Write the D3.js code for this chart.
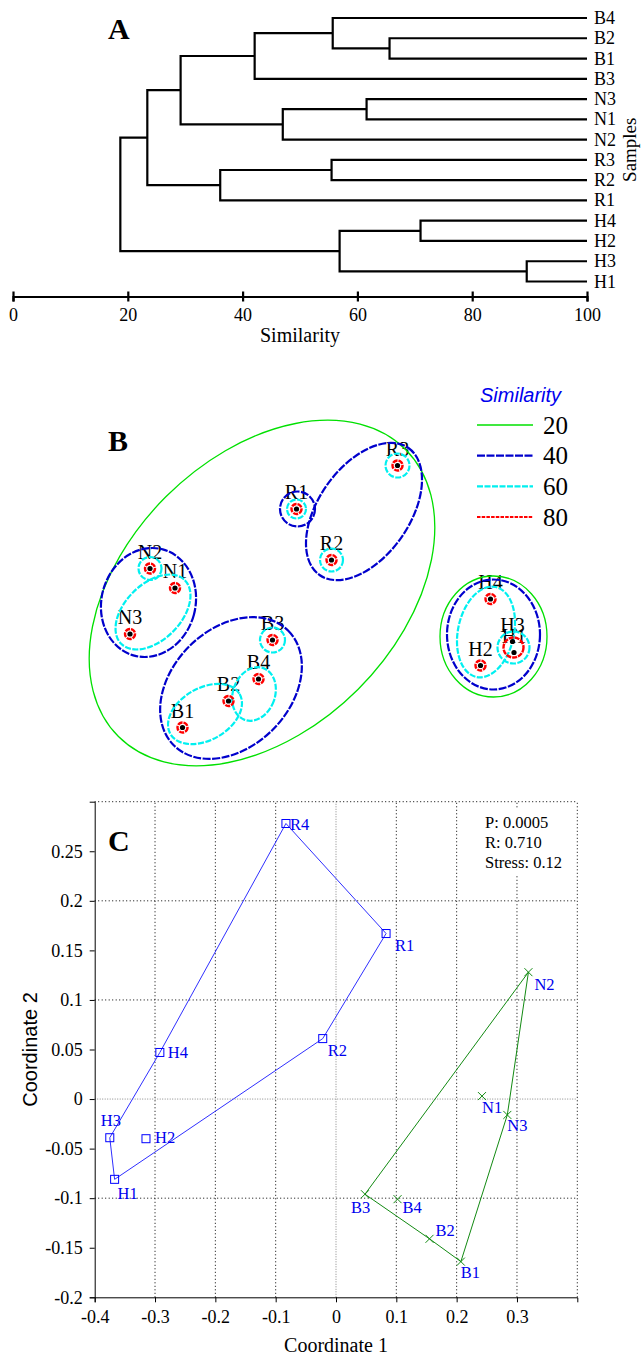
<!DOCTYPE html>
<html lang="en">
<head>
<meta charset="UTF-8">
<title>Cluster and MDS figure</title>
<script src="https://d3js.org/d3.v7.min.js"></script>
<style>
  body { margin: 0; background: #fff; }
  svg { display: block; }
</style>
</head>
<body>
<svg id="fig" width="641" height="1357"></svg>
<script>
// ---------- data: panel A (dendrogram) ----------
const leafOrder  = ['B4','B2','B1','B3','N3','N1','N2','R3','R2','R1','H4','H2','H3','H1'];
const mergeId    = ['m1','m2','m3','m4','m5','m6','m7','m8','m9','m10','m11','m12','m13'];
const mergeLeft  = ['B2','B4','m2','N3','m4','R3','m6','m3','m8','H4','H3','m10','m9'];
const mergeRight = ['B1','m1','B3','N1','N2','R2','R1','m5','m7','H2','H1','m11','m12'];
const mergeSim   = [65.6, 55.7, 42.1, 61.6, 47.0, 55.5, 36.1, 29.2, 23.4, 71.0, 89.5, 56.9, 18.7];
const simTicks   = [0, 20, 40, 60, 80, 100];

// ---------- data: panel B (MDS with similarity overlays) ----------
const bNames = ['R1','R2','R3','N1','N2','N3','B1','B2','B3','B4','H1','H2','H3','H4'];
const bX     = [47.3, 54.3, 67.5, 23.0, 18.0, 14.0, 24.5, 33.7, 42.5, 39.7, 90.8, 84.1, 90.5, 86.1];
const bY     = [54.2, 44.0, 62.9, 38.4, 42.3, 29.2, 10.5, 15.8, 28.0, 20.2, 25.5, 22.9, 27.7, 36.2];
// overlay rings: level, centre, radii, angle (deg, counter-clockwise)
const ringLevel = [20, 20,  40, 40, 40, 40, 40,  60, 60, 60, 60, 60, 60, 60, 60, 60, 60];
const ringCx    = [40.4, 86.7, 17.7, 34.2, 47.5, 60.8, 86.7, 18.0, 18.6, 42.5, 38.8, 29.0, 47.3, 54.3, 67.5, 85.2, 90.7];
const ringCy    = [37.4, 28.7, 35.5, 18.4, 54.2, 53.7, 29.1, 42.3, 33.6, 28.0, 17.2, 13.2, 54.2, 44.0, 62.9, 29.6, 26.5];
const ringRx    = [40.6, 10.7, 9.4, 16.2, 3.5, 15.5, 9.3, 2.3, 9.0, 2.5, 4.2, 8.0, 1.9, 2.3, 2.4, 5.6, 3.2];
const ringRy    = [27.2, 12.1, 11.0, 11.8, 3.5, 9.1, 11.0, 2.3, 5.6, 2.5, 5.5, 5.2, 1.9, 2.3, 2.4, 9.2, 3.2];
const ringAngle = [45, 0, -15, 45, 0, 55, 0, 0, 45, 0, -20, 30, 0, 0, 0, -12, 0];
// level-80 rings (one per point, H3+H1 share one)
const red80Cx = [47.3, 54.3, 67.5, 23.0, 18.0, 14.0, 24.5, 33.7, 42.5, 39.7, 84.1, 86.1, 90.7];
const red80Cy = [54.2, 44.0, 62.9, 38.4, 42.3, 29.2, 10.5, 15.8, 28.0, 20.2, 22.9, 36.2, 26.5];
const red80R  = [1.0, 1.0, 1.0, 1.0, 1.0, 1.0, 1.0, 1.0, 1.0, 1.0, 1.0, 1.0, 2.0];
const legendLevels = [20, 40, 60, 80];

// ---------- data: panel C (NMDS ordination) ----------
const mdsNames = ['R1','R2','R4','H1','H2','H3','H4','N1','N2','N3','B1','B2','B3','B4'];
const mdsX = [0.083, -0.022, -0.083, -0.367, -0.315, -0.375, -0.292, 0.242, 0.319, 0.284, 0.207, 0.155, 0.048, 0.102];
const mdsY = [0.167, 0.061, 0.278, -0.081, -0.040, -0.039, 0.047, 0.003, 0.128, -0.016, -0.164, -0.141, -0.096, -0.101];
const mdsGroup = ['RH','RH','RH','RH','RH','RH','RH','NB','NB','NB','NB','NB','NB','NB'];
const hullRH = ['R4','R1','R2','H1','H3','H4'];
const hullNB = ['N2','N3','B1','B2','B3'];
const xTicksC = [-0.4, -0.3, -0.2, -0.1, 0, 0.1, 0.2, 0.3];
const xTickLabelsC = ['-0.4','-0.3','-0.2','-0.1','0','0.1','0.2','0.3'];
const yTicksC = [-0.2, -0.15, -0.1, -0.05, 0, 0.05, 0.1, 0.15, 0.2, 0.25];
const yTickLabelsC = ['-0.2','-0.15','-0.1','-0.05','0','0.05','0.1','0.15','0.2','0.25'];
const gridXC = [-0.3, -0.2, -0.1, 0, 0.1, 0.2, 0.3, 0.4];
const gridYC = [-0.1, 0, 0.1, 0.2, 0.3];
const statsText = ['P: 0.0005', 'R: 0.710', 'Stress: 0.12'];

const SERIF = '"Liberation Serif", "Times New Roman", serif';
const SANS = '"Liberation Sans", Arial, sans-serif';
const svg = d3.select('#fig');

// ================= panel A =================
const xA = d3.scaleLinear().domain([0, 100]).range([13, 587]);
const yA = d3.scalePoint().domain(leafOrder).range([18, 281.5]);
const gA = svg.append('g');

const pos = {};
leafOrder.forEach(n => pos[n] = { x: xA(100), y: yA(n) });
mergeId.forEach((id, i) => {
    const l = pos[mergeLeft[i]], r = pos[mergeRight[i]];
    pos[id] = { x: xA(mergeSim[i]), y: (l.y + r.y) / 2, l: l, r: r };
});

gA.selectAll('path.link')
    .data(mergeId)
    .enter()
    .append('path')
    .attr('class', 'link')
    .attr('d', id => {
        const p = pos[id];
        return `M${p.l.x},${p.l.y}H${p.x}V${p.r.y}H${p.r.x}`;
    })
    .style('fill', 'none')
    .style('stroke', '#000')
    .style('stroke-width', 2.2);

gA.selectAll('text.leaf')
    .data(leafOrder)
    .enter()
    .append('text')
    .attr('class', 'leaf')
    .attr('x', xA(100) + 7)
    .attr('y', d => yA(d) + 6)
    .style('font-family', SERIF)
    .style('font-size', '18px')
    .text(d => d);

const axA = gA.append('g')
    .attr('transform', 'translate(0,296.5)')
    .call(d3.axisBottom(xA).tickValues(simTicks).tickSizeOuter(0).tickSize(5));
axA.attr('font-family', SERIF);
axA.select('.domain').style('stroke-width', 2.2);
axA.selectAll('.tick line').attr('y1', -5).attr('y2', 5).style('stroke-width', 2.2);
axA.selectAll('.tick text')
    .attr('y', 24).attr('dy', 0)
    .style('font-family', SERIF).style('font-size', '18px');

gA.append('text')
    .attr('x', xA(50)).attr('y', 342)
    .attr('text-anchor', 'middle')
    .style('font-family', SERIF).style('font-size', '20px')
    .text('Similarity');

gA.append('text')
    .attr('transform', `translate(636,${(yA('B4') + yA('H1')) / 2}) rotate(-90)`)
    .attr('text-anchor', 'middle')
    .style('font-family', SERIF).style('font-size', '19px')
    .text('Samples');

gA.append('text')
    .attr('x', 108).attr('y', 39)
    .style('font-family', SERIF).style('font-size', '30px').style('font-weight', 'bold')
    .text('A');

// ================= panel B =================
const xB = d3.scaleLinear().domain([0, 100]).range([60, 560]);
const yB = d3.scaleLinear().domain([0, 80]).range([780, 380]);
const rB = v => xB(v) - xB(0);
const gB = svg.append('g');

const levelStyle = {
    20: { stroke: '#00e000', width: 1.3, dash: null },
    40: { stroke: '#0000cc', width: 2.2, dash: '8,1.5' },
    60: { stroke: '#00f0f0', width: 2.2, dash: '6,1.5' },
    80: { stroke: '#ff0000', width: 2, dash: '3.5,1.2' }
};

gB.append('text')
    .attr('x', 108).attr('y', 451)
    .style('font-family', SERIF).style('font-size', '30px').style('font-weight', 'bold')
    .text('B');

// labels go under the rings
gB.selectAll('text.lab')
    .data(bNames)
    .enter()
    .append('text')
    .attr('class', 'lab')
    .attr('x', (d, i) => xB(bX[i]))
    .attr('y', (d, i) => yB(bY[i]) - 10)
    .attr('text-anchor', 'middle')
    .style('font-family', SERIF)
    .style('font-size', '20px')
    .text(d => d);

gB.selectAll('ellipse.ring')
    .data(ringLevel)
    .enter()
    .append('ellipse')
    .attr('class', 'ring')
    .attr('cx', (d, i) => xB(ringCx[i]))
    .attr('cy', (d, i) => yB(ringCy[i]))
    .attr('rx', (d, i) => rB(ringRx[i]))
    .attr('ry', (d, i) => rB(ringRy[i]))
    .attr('transform', (d, i) => `rotate(${-ringAngle[i]},${xB(ringCx[i])},${yB(ringCy[i])})`)
    .style('fill', 'none')
    .style('stroke', d => levelStyle[d].stroke)
    .style('stroke-width', d => levelStyle[d].width)
    .style('stroke-dasharray', d => levelStyle[d].dash);

gB.selectAll('circle.r80')
    .data(red80R)
    .enter()
    .append('circle')
    .attr('class', 'r80')
    .attr('cx', (d, i) => xB(red80Cx[i]))
    .attr('cy', (d, i) => yB(red80Cy[i]))
    .attr('r', d => rB(d))
    .style('fill', 'none')
    .style('stroke', levelStyle[80].stroke)
    .style('stroke-width', 2.4)
    .style('stroke-dasharray', '5,1');

gB.selectAll('circle.dot')
    .data(bNames)
    .enter()
    .append('circle')
    .attr('class', 'dot')
    .attr('cx', (d, i) => xB(bX[i]))
    .attr('cy', (d, i) => yB(bY[i]))
    .attr('r', 2.6)
    .style('fill', '#000');

// legend
const legY = d3.scalePoint().domain(legendLevels).range([425, 517]);
gB.append('text')
    .attr('x', 480).attr('y', 402)
    .style('font-family', SANS).style('font-style', 'italic')
    .style('font-size', '20px').style('fill', '#0000ee')
    .text('Similarity');
gB.selectAll('line.leg')
    .data(legendLevels)
    .enter()
    .append('line')
    .attr('class', 'leg')
    .attr('x1', 477).attr('x2', 533)
    .attr('y1', d => legY(d)).attr('y2', d => legY(d))
    .style('stroke', d => levelStyle[d].stroke)
    .style('stroke-width', d => levelStyle[d].width)
    .style('stroke-dasharray', d => levelStyle[d].dash);
gB.selectAll('text.leg')
    .data(legendLevels)
    .enter()
    .append('text')
    .attr('class', 'leg')
    .attr('x', 543)
    .attr('y', d => legY(d) + 8.5)
    .style('font-family', SERIF).style('font-size', '25px')
    .text(d => d);

// ================= panel C =================
const xC = d3.scaleLinear().domain([-0.4, 0.4]).range([94.7, 577.3]);
const yC = d3.scaleLinear().domain([-0.2, 0.3]).range([1297.3, 801.7]);
const gC = svg.append('g');

gC.selectAll('line.gx')
    .data(gridXC)
    .enter()
    .append('line')
    .attr('class', 'gx')
    .attr('x1', d => xC(d)).attr('x2', d => xC(d))
    .attr('y1', yC(-0.2)).attr('y2', yC(0.3))
    .style('stroke', d => d === 0 ? '#888' : '#000')
    .style('stroke-width', 1)
    .style('stroke-dasharray', d => d === 0 ? '1,1.5' : '1,2.5');
gC.selectAll('line.gy')
    .data(gridYC)
    .enter()
    .append('line')
    .attr('class', 'gy')
    .attr('x1', xC(-0.4)).attr('x2', xC(0.4))
    .attr('y1', d => yC(d)).attr('y2', d => yC(d))
    .style('stroke', d => d === 0 ? '#888' : '#000')
    .style('stroke-width', 1)
    .style('stroke-dasharray', d => d === 0 ? '1,1.5' : '1,2.5');

// stats box hides the grid behind it
gC.append('rect')
    .attr('x', 482).attr('y', 808).attr('width', 90).attr('height', 67)
    .style('fill', '#fff');
gC.selectAll('text.stat')
    .data(statsText)
    .enter()
    .append('text')
    .attr('class', 'stat')
    .attr('x', 485)
    .attr('y', (d, i) => 828 + i * 20)
    .style('font-family', SERIF).style('font-size', '16.5px')
    .text(d => d);

const axCx = gC.append('g')
    .attr('transform', `translate(0,${yC(-0.2)})`)
    .call(d3.axisBottom(xC).tickValues(xTicksC).tickFormat((d, i) => xTickLabelsC[i]).tickSizeOuter(0).tickSize(5));
axCx.selectAll('.tick text').attr('y', 26).attr('dy', 0)
    .style('font-family', SERIF).style('font-size', '18px');

const axCy = gC.append('g')
    .attr('transform', `translate(${xC(-0.4)},0)`)
    .call(d3.axisLeft(yC).tickValues(yTicksC).tickFormat((d, i) => yTickLabelsC[i]).tickSizeOuter(0).tickSize(5).tickPadding(7));
axCy.selectAll('.tick text')
    .style('font-family', SERIF).style('font-size', '18px');

gC.append('text')
    .attr('x', xC(0)).attr('y', 1352)
    .attr('text-anchor', 'middle')
    .style('font-family', SERIF).style('font-size', '20px')
    .text('Coordinate 1');
gC.append('text')
    .attr('transform', `translate(37,${yC(0.05)}) rotate(-90)`)
    .attr('text-anchor', 'middle')
    .style('font-family', SANS).style('font-size', '20px')
    .text('Coordinate 2');
gC.append('text')
    .attr('x', 108).attr('y', 851)
    .style('font-family', SERIF).style('font-size', '30px').style('font-weight', 'bold')
    .text('C');

const idx = n => mdsNames.indexOf(n);
const line = d3.line().x(n => xC(mdsX[idx(n)])).y(n => yC(mdsY[idx(n)])).curve(d3.curveLinearClosed);
gC.append('path').attr('d', line(hullRH))
    .style('fill', 'none').style('stroke', '#2f2fff').style('stroke-width', 1);
gC.append('path').attr('d', line(hullNB))
    .style('fill', 'none').style('stroke', '#128a12').style('stroke-width', 1);

const pts = mdsNames.map((n, i) => ({ name: n, x: mdsX[i], y: mdsY[i], g: mdsGroup[i] }));
gC.selectAll('rect.sq')
    .data(pts.filter(d => d.g === 'RH'))
    .enter()
    .append('rect')
    .attr('class', 'sq')
    .attr('x', d => xC(d.x) - 4).attr('y', d => yC(d.y) - 4)
    .attr('width', 8).attr('height', 8)
    .style('fill', 'none').style('stroke', '#0000ff').style('stroke-width', 1);
gC.selectAll('path.cross')
    .data(pts.filter(d => d.g === 'NB'))
    .enter()
    .append('path')
    .attr('class', 'cross')
    .attr('d', d => {
        const cx = xC(d.x), cy = yC(d.y);
        return `M${cx - 4},${cy - 4}L${cx + 4},${cy + 4}M${cx - 4},${cy + 4}L${cx + 4},${cy - 4}`;
    })
    .style('stroke', '#128a12').style('stroke-width', 1);

// label offsets in px (dx from point, dy to baseline)
const labelOffset = {
    R4: [4, 6], R1: [9, 17], R2: [5, 17], H4: [8, 6], H3: [-9, -12], H2: [9, 4], H1: [3, 20],
    N2: [6, 18], N1: [0, 17], N3: [0, 16], B3: [-14, 19], B4: [5, 14], B2: [6, -3], B1: [0, 16]
};
gC.selectAll('text.pl')
    .data(pts)
    .enter()
    .append('text')
    .attr('class', 'pl')
    .attr('x', d => xC(d.x) + labelOffset[d.name][0])
    .attr('y', d => yC(d.y) + labelOffset[d.name][1])
    .style('font-family', SERIF).style('font-size', '16.5px').style('fill', '#0000ee')
    .text(d => d.name);
</script>
</body>
</html>
